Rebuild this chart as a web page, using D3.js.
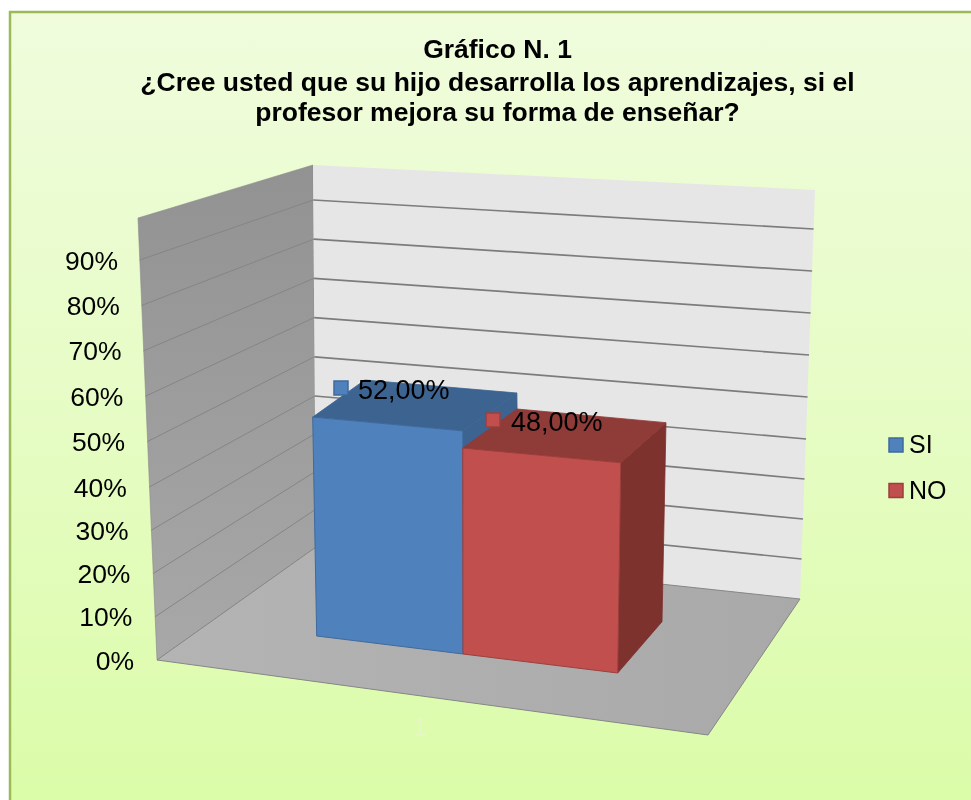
<!DOCTYPE html>
<html><head><meta charset="utf-8">
<style>html,body{margin:0;padding:0;background:#fff;overflow:hidden}svg{display:block}text{font-family:"Liberation Sans",Arial,sans-serif;fill:#000}</style>
<script src="https://cdnjs.cloudflare.com/ajax/libs/d3/7.8.5/d3.min.js"></script>
</head><body><div id="chart"></div>
<script>
const titleLines = ["Gráfico N. 1","¿Cree usted que su hijo desarrolla los aprendizajes, si el","profesor mejora su forma de enseñar?"];
const categories = ["SI","NO"];
const values = [52,48];
const valueLabels = ["52,00%","48,00%"];
const frontColors = ["#4f81bd","#c0504d"];
const topColors = ["#3c6491","#8f3a38"];
const sideColors = ["#3c6491","#7e302e"];
const edgeColors = ["#3f6a9c","#9c3f3c"];
const tickValues = [0,10,20,30,40,50,60,70,80,90];
const xCategories = ["1"];

const W=971,H=800;
const svg=d3.select("#chart").append("svg").attr("width",W).attr("height",H);
const defs=svg.append("defs");
function grad(id,stops,x2,y2){const g=defs.append("linearGradient").attr("id",id).attr("x1",0).attr("y1",0).attr("x2",x2).attr("y2",y2);
 stops.forEach(([o,c])=>g.append("stop").attr("offset",o).attr("stop-color",c));}
grad("bg",[[0,"#f0fcdd"],[0.5,"#e6fcc4"],[1,"#dafca6"]],0,1);
grad("wall",[[0,"#929292"],[1,"#a8a8a8"]],0,1);
grad("floor",[[0,"#b4b4b4"],[1,"#a9a9a9"]],1,0);
defs.append("filter").attr("id","soft").append("feGaussianBlur").attr("stdDeviation",0.5);

const root=svg.append("g").attr("filter","url(#soft)");
root.append("rect").attr("x",10).attr("y",12).attr("width",W+20).attr("height",H+20)
  .attr("fill","url(#bg)").attr("stroke","#9bbb59").attr("stroke-width",2.5);

const dom=[0,40,90,99];
const ed={
 front:{x:d3.scaleLinear().domain([0,99]).range([157,138]),y:d3.scaleLinear().domain(dom).range([660,487,260,218])},
 back:{x:d3.scaleLinear().domain([0,99]).range([316,313]),y:d3.scaleLinear().domain(dom).range([547,396,200,165])},
 right:{x:d3.scaleLinear().domain([0,99]).range([800,815]),y:d3.scaleLinear().domain(dom).range([599,439,229,190])}
};
const pt=(e,v)=>[e.x(v),e.y(v)];
const line=d3.line();
const poly=(g,pts,fill,stroke,sw)=>g.append("path").attr("d",line(pts)+"Z").attr("fill",fill).attr("stroke",stroke||"none").attr("stroke-width",sw||0).attr("stroke-linejoin","round");
const vTop=d3.max(ed.front.x.domain());

poly(root,[pt(ed.front,0),pt(ed.front,vTop),pt(ed.back,vTop),pt(ed.back,0)],"url(#wall)","#8a8a8a",0.6);
poly(root,[pt(ed.back,0),pt(ed.back,vTop),pt(ed.right,vTop),pt(ed.right,0)],"#e6e6e6");
const floorFrontRight=[708,735];
poly(root,[pt(ed.front,0),floorFrontRight,pt(ed.right,0),pt(ed.back,0)],"url(#floor)","#868686",1);

const grid=root.append("g");
grid.selectAll("line.a").data(tickValues.slice(1)).join("line").attr("class","a")
 .attr("x1",d=>ed.front.x(d)).attr("y1",d=>ed.front.y(d)).attr("x2",d=>ed.back.x(d)).attr("y2",d=>ed.back.y(d))
 .attr("stroke","#858585").attr("stroke-width",1);
grid.selectAll("line.b").data(tickValues.slice(1)).join("line").attr("class","b")
 .attr("x1",d=>ed.back.x(d)).attr("y1",d=>ed.back.y(d)).attr("x2",d=>ed.right.x(d)).attr("y2",d=>ed.right.y(d))
 .attr("stroke","#7c7c7c").attr("stroke-width",1.7);

const labelEnd=d3.scaleLinear().domain([0,90]).range([134,118]);
root.append("g").selectAll("text").data(tickValues).join("text")
 .attr("x",d=>labelEnd(d)).attr("y",d=>ed.front.y(d)+9.5).attr("text-anchor","end")
 .attr("font-size",26.5).text(d=>d+"%");

const edge=(x0,y0,x1,y1)=>({x:d3.scaleLinear().domain([0,100]).range([x0,x1]),y:d3.scaleLinear().domain([0,100]).range([y0,y1])});
const barEdges=[
 {fl:edge(316.7,636,309,215),fr:edge(463,654,462.5,225),bl:edge(369,588,361,188),br:edge(519,601,515,201)},
 {fl:edge(463,654,462.5,225),fr:edge(617.7,673,624,235),bl:edge(519,601,515,201),br:edge(662,621.7,670.3,207)}
];
const bars=root.append("g");
values.forEach((v,i)=>{
 const e=barEdges[i],g=bars.append("g");
 poly(g,[pt(e.fr,0),pt(e.fr,v),pt(e.br,v),pt(e.br,0)],sideColors[i],sideColors[i],0.8);
 poly(g,[pt(e.fl,v),pt(e.fr,v),pt(e.br,v),pt(e.bl,v)],topColors[i],topColors[i],0.8);
 poly(g,[pt(e.fl,0),pt(e.fl,v),pt(e.fr,v),pt(e.fr,0)],frontColors[i],edgeColors[i],1);
});

const dl=[[333,380,358,399],[485,412,511,431]];
values.forEach((v,i)=>{
 const [mx,my,tx,ty]=dl[i];
 root.append("rect").attr("x",mx+1).attr("y",my+1).attr("width",14).attr("height",14).attr("fill",frontColors[i]).attr("stroke",edgeColors[i]).attr("stroke-width",1.5);
 root.append("text").attr("x",tx).attr("y",ty).attr("font-size",27).text(valueLabels[i]);
});

root.append("text").attr("x",420).attr("y",736).attr("text-anchor","middle").attr("font-size",26).style("fill","#e4f7c4").text(xCategories[0]);

const leg=root.append("g").selectAll("g").data(categories).join("g").attr("transform",(d,i)=>`translate(888,${437+i*45.5})`);
leg.append("rect").attr("x",1).attr("y",1).attr("width",14).attr("height",14).attr("fill",(d,i)=>frontColors[i]).attr("stroke",(d,i)=>edgeColors[i]).attr("stroke-width",1.5);
leg.append("text").attr("x",21).attr("y",16).attr("font-size",25).text(d=>d);

root.append("g").selectAll("text").data(titleLines).join("text")
 .attr("x",497.5).attr("y",(d,i)=>[58,91,121][i]).attr("text-anchor","middle").attr("font-size",26.5).attr("font-weight","bold").text(d=>d);
</script></body></html>
